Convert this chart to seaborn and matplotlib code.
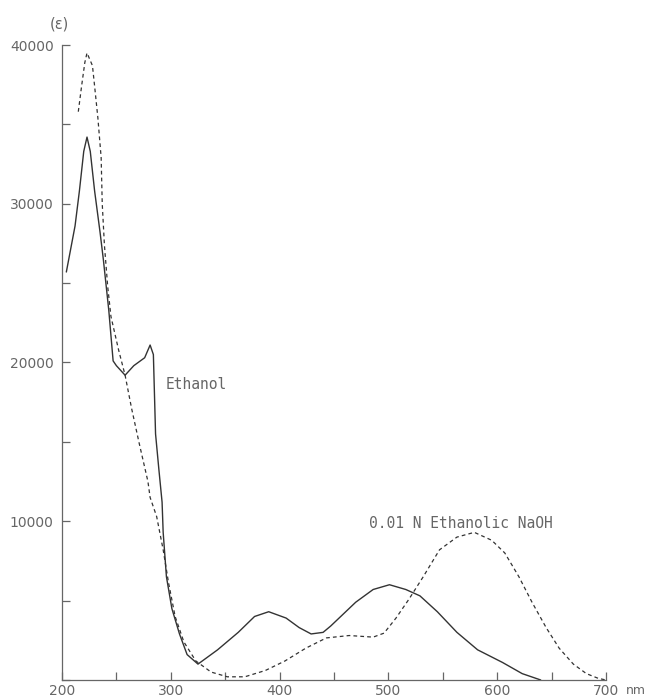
import matplotlib
matplotlib.use("Agg")
import matplotlib.pyplot as plt
import seaborn as sns
from matplotlib.ticker import MultipleLocator

# Absorption spectrum in ethanol (solid line)
eth_nm = [204, 212, 216, 220, 223, 226, 230, 235, 238, 243, 247, 250, 258,
          266, 272, 276, 281, 284, 286, 289, 292, 293, 296, 301, 308, 315,
          325, 343, 362, 377, 390, 406, 418, 429, 440, 447, 470, 486, 501,
          516, 529, 545, 563, 582, 605, 623, 640]
eth_eps = [25700, 28600, 30800, 33300, 34200, 33300, 30800, 28200, 26500,
           23300, 20100, 19800, 19200, 19800, 20100, 20300, 21100, 20500,
           15500, 13300, 11200, 9300, 6500, 4500, 2900, 1600, 1000, 1900,
           3000, 4000, 4300, 3900, 3300, 2900, 3000, 3400, 4900, 5700, 6000,
           5700, 5300, 4300, 3000, 1900, 1100, 400, 0]

# Absorption spectrum in 0.01 N ethanolic NaOH (dashed line)
naoh_nm = [215, 218, 221, 223, 228, 230, 233, 236, 237, 239, 242, 245, 252,
           258, 264, 271, 279, 281, 287, 293, 298, 304, 312, 323, 337, 352,
           368, 387, 405, 424, 443, 464, 486, 496, 507, 519, 532, 547, 563,
           579, 595, 607, 620, 632, 645, 657, 670, 682, 693, 700]
naoh_eps = [35800, 37400, 38900, 39500, 38700, 37400, 35400, 32900, 30000,
            27400, 24800, 22900, 20800, 19200, 17100, 14900, 12500, 11500,
            10300, 8200, 6100, 4000, 2400, 1200, 500, 200, 200, 600, 1200,
            2000, 2650, 2800, 2700, 2950, 3900, 5100, 6500, 8200, 9000, 9300,
            8800, 8000, 6500, 4900, 3300, 2000, 1000, 400, 100, 0]

x_ticks = [200, 300, 400, 500, 600, 700]
y_ticks = [10000, 20000, 30000, 40000]

sns.set_style("ticks")
plt.rcParams["font.family"] = ["DejaVu Sans"]

ink = "#333333"
grey = "#666666"

fig, ax = plt.subplots(figsize=(6.45, 7.0), dpi=100)
fig.subplots_adjust(left=0.0961, right=0.9395, bottom=0.0286, top=0.9357)

sns.lineplot(x=eth_nm, y=eth_eps, ax=ax, color=ink, linewidth=1.0)
sns.lineplot(x=naoh_nm, y=naoh_eps, ax=ax, color=ink, linewidth=0.9,
             linestyle=(0, (3, 2.5)))

ax.set_xlim(200, 700)
ax.set_ylim(0, 40000)
ax.set_xticks(x_ticks)
ax.set_yticks(y_ticks)
ax.xaxis.set_minor_locator(MultipleLocator(50))
ax.yaxis.set_minor_locator(MultipleLocator(5000))
ax.tick_params(which="both", direction="in", length=6, width=0.9,
               color="#666666", labelsize=10, labelcolor=grey)
ax.tick_params(axis="x", pad=3)
ax.tick_params(axis="y", pad=6)
sns.despine(ax=ax)
for side in ["left", "bottom"]:
    ax.spines[side].set_color("#666666")
    ax.spines[side].set_linewidth(0.9)

# Curve labels
mono = "DejaVu Sans Mono"
ax.text(295, 18600, "Ethanol", family=mono, fontsize=10.5, color=grey,
        va="center", ha="left")
ax.text(482, 9870, "0.01 N Ethanolic NaOH", family=mono, fontsize=10.5,
        color=grey, va="center", ha="left")

# Axis unit labels
ax.text(-0.004, 1.033, "(ε)", transform=ax.transAxes, fontsize=10.5,
        color=grey, ha="center", va="center")
ax.annotate("nm", xy=(1, 0), xycoords="axes fraction", xytext=(20, -4),
            textcoords="offset pixels", fontsize=9, color=grey,
            ha="left", va="top")

fig.savefig("out.png", dpi=100)
